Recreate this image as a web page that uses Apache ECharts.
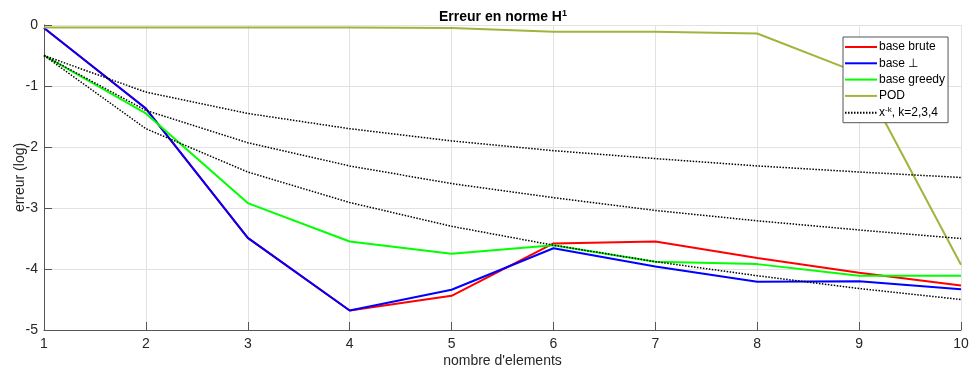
<!DOCTYPE html>
<html>
<head>
<meta charset="utf-8">
<script src="https://cdn.jsdelivr.net/npm/echarts@6/dist/echarts.min.js"></script>
<style>
  html, body { margin: 0; padding: 0; background: #fff; }
  #chart { width: 969px; height: 378px; }
</style>
</head>
<body>
<div id="chart"></div>
<script>
// Number of basis elements
const nbElements = [1, 2, 3, 4, 5, 6, 7, 8, 9, 10];

// log10 of the H1 error for each reduced basis
const baseBrute  = [-0.05, -1.37, -3.49, -4.68, -4.44, -3.58, -3.55, -3.82, -4.06, -4.27];
const baseOrtho  = [-0.05, -1.37, -3.49, -4.68, -4.34, -3.66, -3.96, -4.21, -4.20, -4.33];
const baseGreedy = [-0.50, -1.45, -2.92, -3.55, -3.75, -3.61, -3.88, -3.92, -4.11, -4.11];
const pod        = [-0.04, -0.04, -0.04, -0.04, -0.05, -0.11, -0.11, -0.14, -0.79, -3.93];

// Reference slopes x^-k (k = 2, 3, 4), shifted to start at -0.5
const refK2 = [-0.50, -1.10, -1.45, -1.70, -1.90, -2.06, -2.19, -2.31, -2.41, -2.50];
const refK3 = [-0.50, -1.40, -1.93, -2.31, -2.60, -2.83, -3.04, -3.21, -3.36, -3.50];
const refK4 = [-0.50, -1.70, -2.41, -2.91, -3.30, -3.61, -3.88, -4.11, -4.32, -4.50];

const yTicks = [0, -1, -2, -3, -4, -5];

const REF_NAME = 'ref x^-k';
const FONT = '"Liberation Sans", Arial, Helvetica, sans-serif';

function pairs(ys) { return nbElements.map((x, i) => [x, ys[i]]); }

function curve(name, ys, color) {
  return {
    name: name, type: 'line', data: pairs(ys),
    symbol: 'none', showSymbol: false,
    lineStyle: { color: color, width: 2 },
    itemStyle: { color: color },
    emphasis: { disabled: true }
  };
}
function refCurve(ys) {
  return {
    name: REF_NAME, type: 'line', data: pairs(ys),
    symbol: 'none', showSymbol: false,
    lineStyle: { color: '#000', width: 1.5, type: [1.5, 1.5] },
    itemStyle: { color: '#000' },
    emphasis: { disabled: true }
  };
}

const chart = echarts.init(document.getElementById('chart'), null, { renderer: 'canvas' });

chart.setOption({
  animation: false,
  backgroundColor: '#fff',
  textStyle: { fontFamily: FONT },
  title: {
    text: '{t|Erreur en norme H}{s|1}',
    left: 498, top: 4, textAlign: 'center',
    textStyle: {
      rich: {
        t: { fontSize: 14, fontWeight: 'bold', color: '#000', fontFamily: FONT },
        s: { fontSize: 9, fontWeight: 'bold', color: '#000', fontFamily: FONT, verticalAlign: 'top', padding: [0, 0, 7, 0] }
      }
    }
  },
  grid: { left: 44, right: 8, top: 25, bottom: 48, containLabel: false, outerBoundsMode: 'none' },
  legend: {
    orient: 'vertical',
    left: 843, top: 37,
    backgroundColor: '#fff',
    borderColor: '#555',
    borderWidth: 1,
    padding: [4, 3, 4, 1],
    itemWidth: 32, itemHeight: 12, itemGap: 4.3,
    itemStyle: { opacity: 0 },
    data: ['base brute', 'base ⊥', 'base greedy', 'POD', REF_NAME],
    formatter: function (name) {
      return name === REF_NAME ? '{n|x}{s|-k}{n|, k=2,3,4}' : '{n|' + name + '}';
    },
    textStyle: {
      color: '#000', fontSize: 12, fontFamily: FONT, padding: [0, 0, 0, -3],
      rich: {
        n: { fontSize: 12, color: '#000', fontFamily: FONT },
        s: { fontSize: 8, color: '#000', fontFamily: FONT, verticalAlign: 'top', padding: [0, 0, 5, 0] }
      }
    },
    selectedMode: false
  },
  xAxis: {
    type: 'value', min: 1, max: 10, interval: 1,
    name: "nombre d'elements", nameLocation: 'middle', nameGap: 24, nameMoveOverlap: false,
    nameTextStyle: { fontSize: 14, color: '#262626', fontFamily: FONT },
    axisLine: { show: true, onZero: false, lineStyle: { color: '#555', width: 1 } },
    axisTick: { show: true, inside: true, length: 8, lineStyle: { color: '#555' } },
    axisLabel: { fontSize: 14, color: '#262626', margin: 7, fontFamily: FONT },
    splitLine: { show: true, lineStyle: { color: '#e2e2e2', width: 1 } }
  },
  yAxis: {
    type: 'value', min: -5, max: 0, interval: 1,
    name: 'erreur (log)', nameLocation: 'middle', nameGap: 17, nameRotate: 90, nameMoveOverlap: false,
    nameTextStyle: { fontSize: 14, color: '#262626', fontFamily: FONT },
    axisLine: { show: true, onZero: false, lineStyle: { color: '#555', width: 1 } },
    axisTick: { show: true, inside: true, length: 8, lineStyle: { color: '#555' } },
    axisLabel: {
      fontSize: 14, color: '#262626', margin: 6, fontFamily: FONT,
      formatter: function (v) { return yTicks.indexOf(v) >= 0 ? String(v) : ''; }
    },
    splitLine: { show: true, lineStyle: { color: '#e2e2e2', width: 1 } }
  },
  series: [
    curve('base brute', baseBrute, '#ff0000'),
    curve('base ⊥', baseOrtho, '#0000ff'),
    curve('base greedy', baseGreedy, '#00ff00'),
    curve('POD', pod, '#a2b43c'),
    refCurve(refK2),
    refCurve(refK3),
    refCurve(refK4)
  ]
});
</script>
</body>
</html>
